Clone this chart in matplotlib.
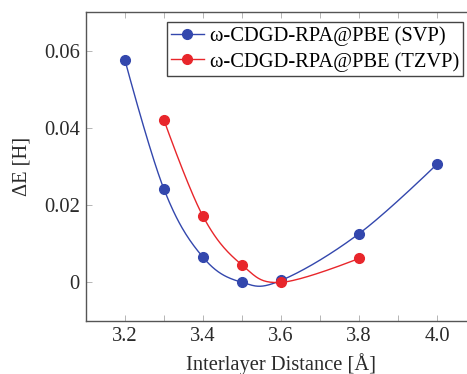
import numpy as np
import matplotlib
matplotlib.use("Agg")
import matplotlib.pyplot as plt

plt.rcParams['font.family'] = ['Liberation Serif', 'DejaVu Serif']

# data
svp_x = [3.2, 3.3, 3.4, 3.5, 3.6, 3.8, 4.0]
svp_y = [0.0575, 0.0241, 0.0065, 0.0, 0.0005, 0.0126, 0.0306]
tzvp_x = [3.3, 3.4, 3.5, 3.6, 3.8]
tzvp_y = [0.042, 0.0171, 0.0045, 0.0, 0.0062]
labels = ["\u03c9-CDGD-RPA@PBE (SVP)", "\u03c9-CDGD-RPA@PBE (TZVP)"]

blue = '#3347ad'
red = '#e8262b'
fs = 14.8


# pgfplots-style "smooth": cubic bezier through the points
def smooth(x, y, t=0.18, n=40):
  p = np.column_stack([x, y]).astype(float)
  m = len(p)
  tang = np.zeros_like(p)
  for i in range(1, m-1):
    tang[i] = (p[i+1] - p[i-1]) * t
  xs, ys = [], []
  s = np.linspace(0, 1, n)[:, None]
  for i in range(m-1):
    a = p[i]
    b = p[i] + tang[i]
    c = p[i+1] - tang[i+1]
    d = p[i+1]
    seg = (1-s)**3*a + 3*(1-s)**2*s*b + 3*(1-s)*s**2*c + s**3*d
    xs.extend(seg[:, 0]); ys.extend(seg[:, 1])
  return np.array(xs), np.array(ys)


fig = plt.figure(figsize=(4.67, 3.74), dpi=100)
ax = fig.add_axes([86/467, 1-321/374, 390/467, 309/374])

for xx, yy, col, lab in [(svp_x, svp_y, blue, labels[0]), (tzvp_x, tzvp_y, red, labels[1])]:
  sx, sy = smooth(xx, yy)
  ax.plot(sx, sy, '-', color=col, lw=1.0)
  ax.plot(xx, yy, 'o', color=col, ms=7, mec=col)
  ax.plot([], [], '-o', color=col, lw=1.0, ms=7, label=lab)

ax.set_xlim(3.1, 4.1)
ax.set_ylim(-0.01, 0.07)
ax.set_xticks([3.2, 3.4, 3.6, 3.8, 4.0])
ax.set_xticklabels(['3.2', '3.4', '3.6', '3.8', '4.0'])
ax.set_xticks([3.3, 3.5, 3.7, 3.9], minor=True)
ax.set_yticks([0, 0.02, 0.04, 0.06])
ax.set_yticklabels(['0', '0.02', '0.04', '0.06'])
ax.tick_params(which='both', direction='in', top=True, right=True, length=4,
               width=0.6, color='#aaaaaa', labelsize=fs, labelcolor='#2a2a2a', pad=4.5)
for sp in ax.spines.values():
  sp.set_color('#555555')
  sp.set_linewidth(1.0)

ax.set_xlabel('Interlayer Distance [\u00c5]', fontsize=fs, color='#2a2a2a', labelpad=5)
ax.set_ylabel('\u0394E [H]', fontsize=fs, color='#2a2a2a', labelpad=9)

leg = ax.legend(loc='upper right', bbox_to_anchor=(0.967, 0.968), fontsize=fs,
                fancybox=False, framealpha=1, edgecolor='#444444', borderpad=0.2,
                handlelength=1.6, handletextpad=0.3, labelspacing=0.3, borderaxespad=0)
leg.get_frame().set_linewidth(1.0)

fig.savefig('out.png', dpi=100)
